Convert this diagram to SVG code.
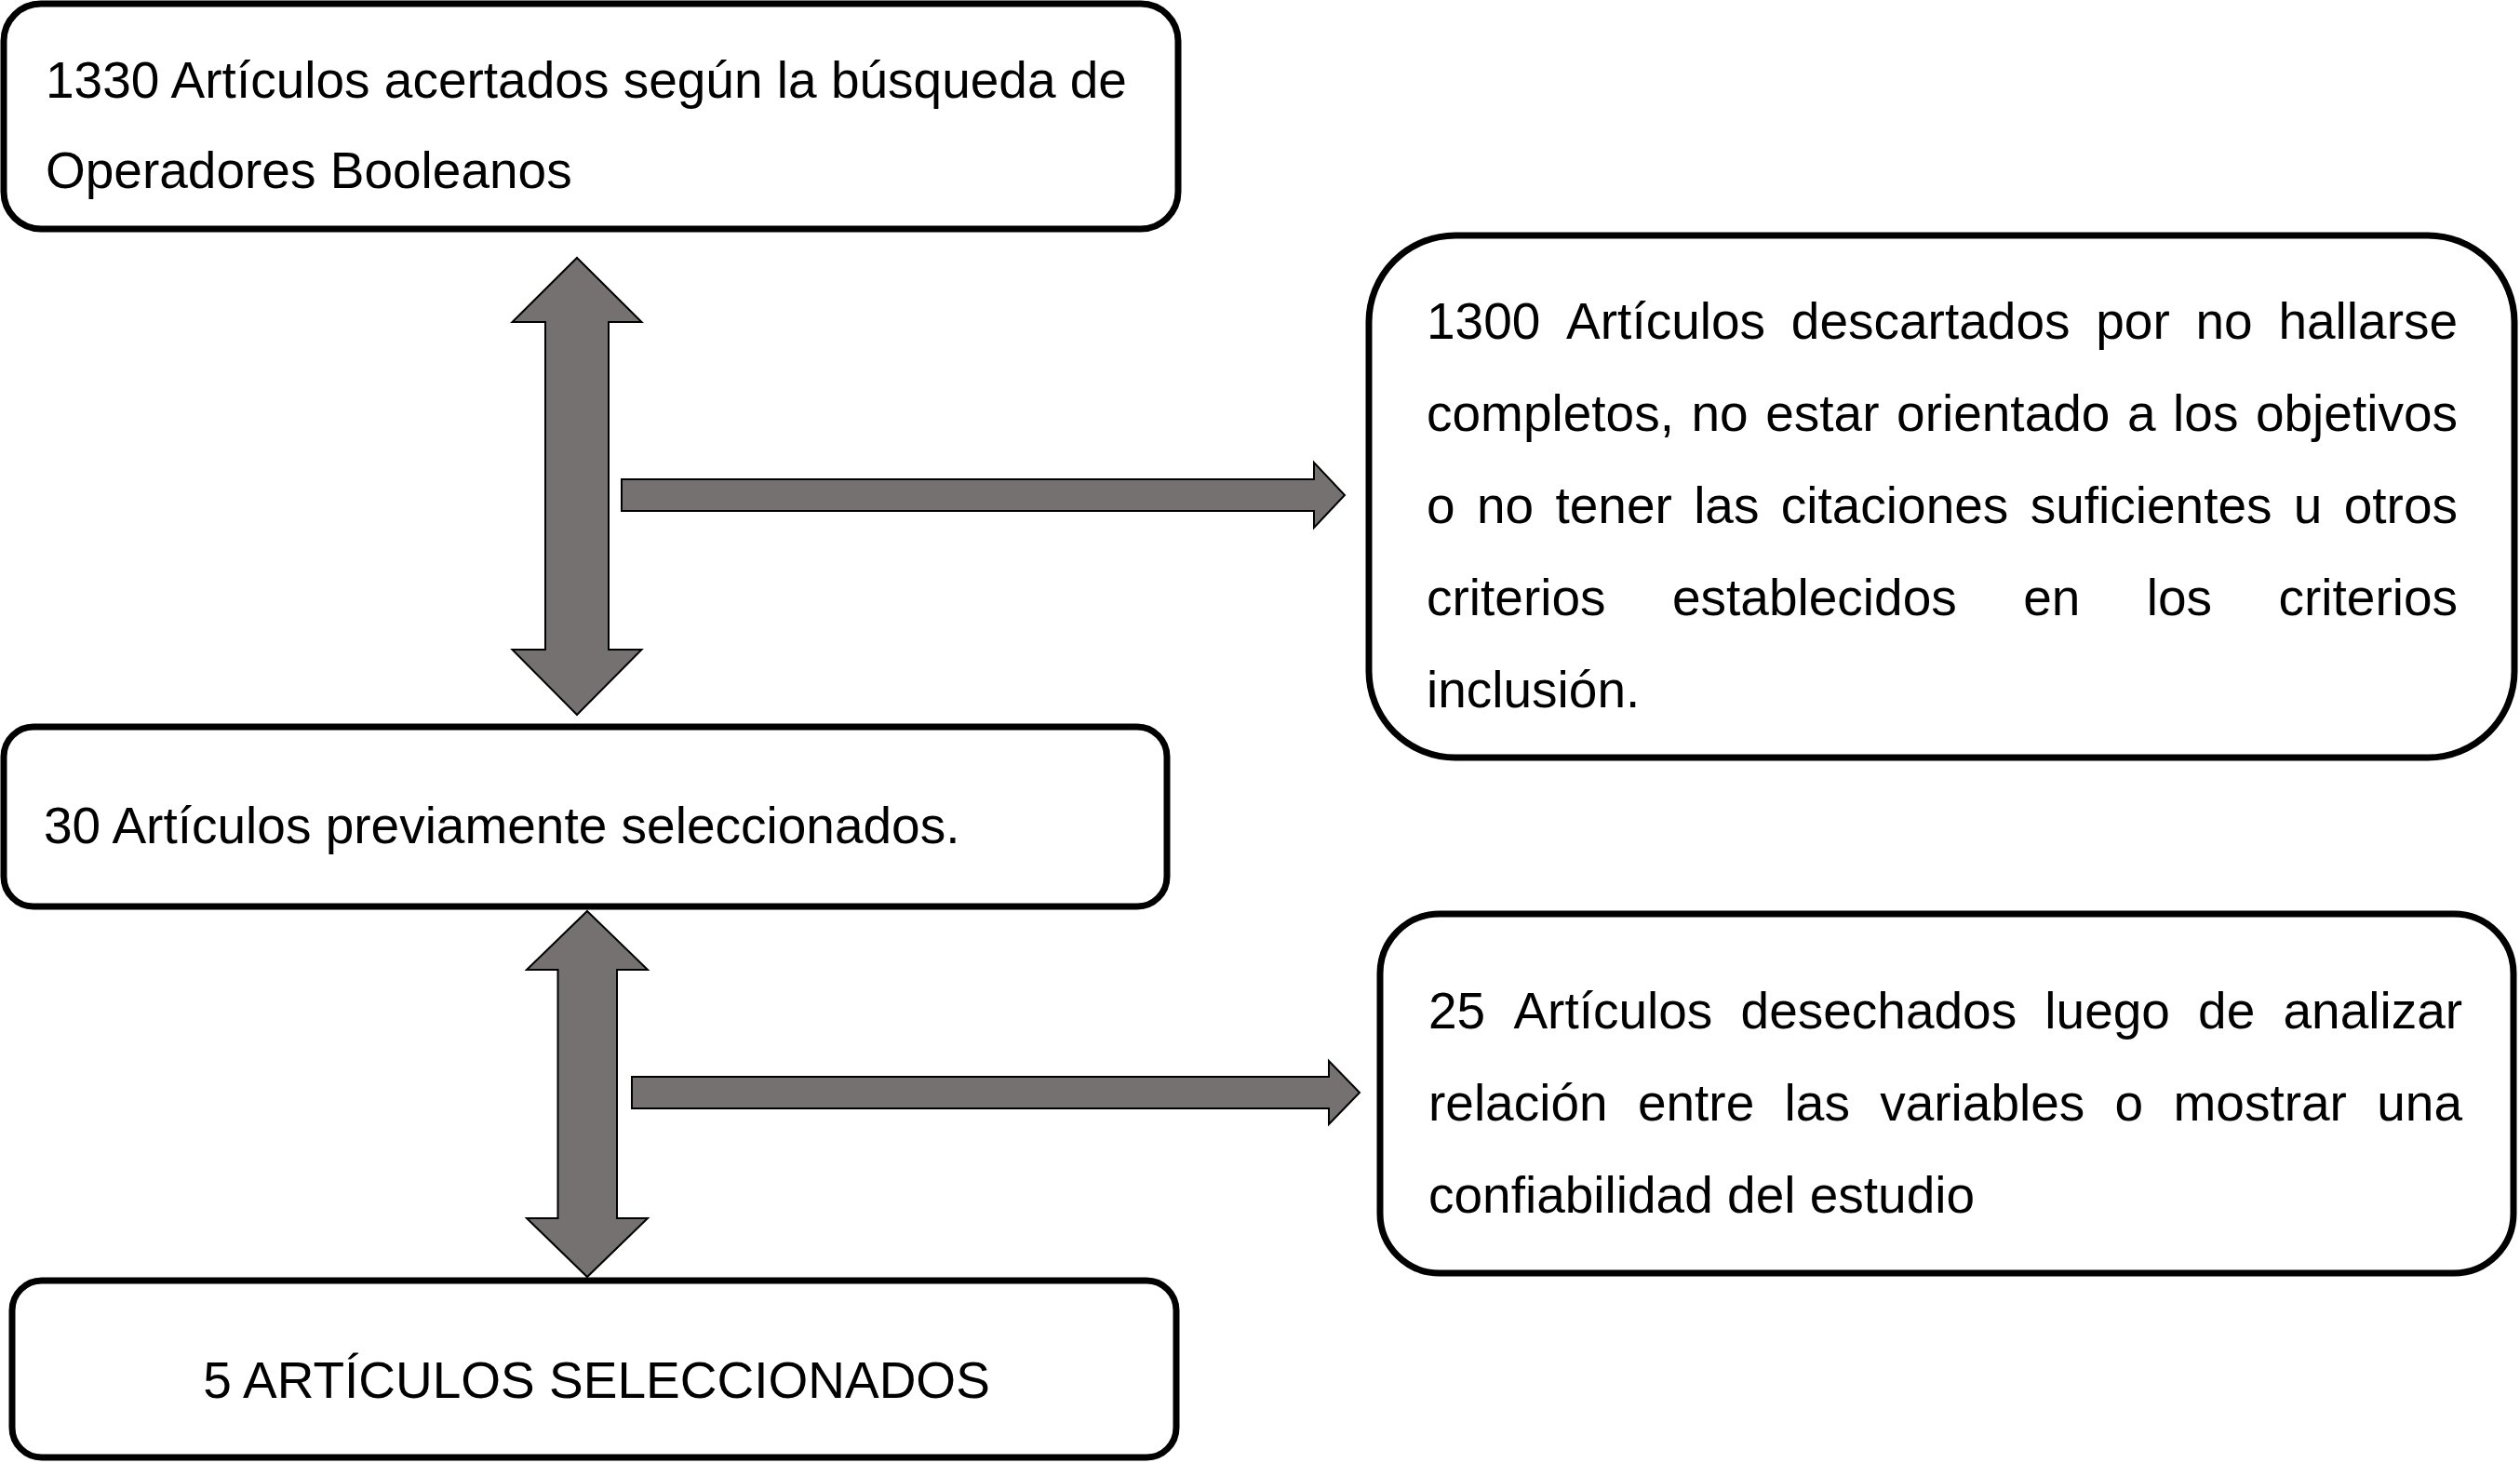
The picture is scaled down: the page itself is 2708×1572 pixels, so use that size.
<svg xmlns="http://www.w3.org/2000/svg" width="2708" height="1572" viewBox="0 0 2708 1572">
<style>
.box{fill:#ffffff;stroke:#000000;stroke-width:7}
.t{font-family:"Liberation Sans",Arial,sans-serif;font-size:55px;fill:#000000}
.arr{fill:#767171;stroke:#000000;stroke-width:2;stroke-linejoin:miter}
</style>
<rect x="0" y="0" width="2708" height="1572" fill="#ffffff"/>
<g id="node-1330">
<rect class="box" x="4" y="4" width="1262" height="242" rx="40" ry="40"/>
<text class="t" x="49" y="105">1330 Artículos acertados según la búsqueda de</text>
<text class="t" x="49" y="202">Operadores Booleanos</text>
</g>
<g id="node-1300">
<rect class="box" x="1471" y="253" width="1231" height="561" rx="93" ry="93"/>
<text class="t" y="364"><tspan x="1533">1300</tspan><tspan x="1683.11">Artículos</tspan><tspan x="1924.85">descartados</tspan><tspan x="2252.23">por</tspan><tspan x="2359.5">no</tspan><tspan x="2448.45">hallarse</tspan></text>
<text class="t" y="463"><tspan x="1533">completos,</tspan><tspan x="1817.5">no</tspan><tspan x="1897.23">estar</tspan><tspan x="2038.07">orientado</tspan><tspan x="2285.94">a</tspan><tspan x="2335.09">los</tspan><tspan x="2423.95">objetivos</tspan></text>
<text class="t" y="562"><tspan x="1533">o</tspan><tspan x="1586.93">no</tspan><tspan x="1671.44">tener</tspan><tspan x="1820.14">las</tspan><tspan x="1913.78">citaciones</tspan><tspan x="2181.66">suficientes</tspan><tspan x="2464.83">u</tspan><tspan x="2518.76">otros</tspan></text>
<text class="t" y="661"><tspan x="1533">criterios</tspan><tspan x="1796.97">establecidos</tspan><tspan x="2174.13">en</tspan><tspan x="2306.76">los</tspan><tspan x="2448.52">criterios</tspan></text>
<text class="t" x="1533" y="760">inclusión.</text>
</g>
<g id="node-30">
<rect class="box" x="4" y="781" width="1250" height="193" rx="32" ry="32"/>
<text class="t" x="47" y="906">30 Artículos previamente seleccionados.</text>
</g>
<g id="node-25">
<rect class="box" x="1483" y="982" width="1218" height="386" rx="64" ry="64"/>
<text class="t" y="1105"><tspan x="1535">25</tspan><tspan x="1626.38">Artículos</tspan><tspan x="1870.55">desechados</tspan><tspan x="2197.33">luego</tspan><tspan x="2362.08">de</tspan><tspan x="2453.46">analizar</tspan></text>
<text class="t" y="1204"><tspan x="1535">relación</tspan><tspan x="1759.9">entre</tspan><tspan x="1917.59">las</tspan><tspan x="2020.22">variables</tspan><tspan x="2272.62">o</tspan><tspan x="2335.54">mostrar</tspan><tspan x="2554.28">una</tspan></text>
<text class="t" x="1535" y="1303">confiabilidad del estudio</text>
</g>
<g id="node-5">
<rect class="box" x="13" y="1376" width="1251" height="190" rx="32" ry="32"/>
<text class="t" x="641" y="1502" text-anchor="middle">5 ARTÍCULOS SELECCIONADOS</text>
</g>
<g id="connectors">
<polygon class="arr" points="620,277 689.5,346 654,346 654,698 689.5,698 620,768 550.5,698 586,698 586,346 550.5,346"/>
<polygon class="arr" points="668,515 1412,515 1412,497 1445,532 1412,567 1412,549 668,549"/>
<polygon class="arr" points="631,979 696,1042 663,1042 663,1309 696,1309 631,1372 566,1309 599.5,1309 599.5,1042 566,1042"/>
<polygon class="arr" points="679,1157 1428,1157 1428,1140 1461,1174 1428,1208 1428,1191 679,1191"/>
</g>
</svg>
